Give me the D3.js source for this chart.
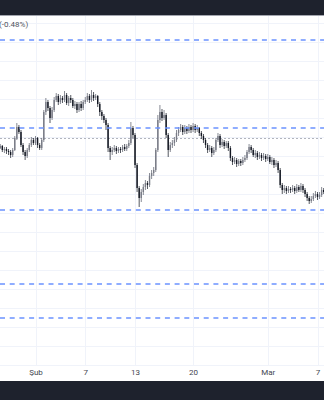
<!DOCTYPE html>
<html>
<head>
<meta charset="utf-8">
<script src="https://cdn.jsdelivr.net/npm/d3@7"></script>
<style>
  body { margin: 0; background: #ffffff; }
  svg { display: block; }
</style>
</head>
<body>
<div id="chart-area"></div>
<script>
// 6h candles, first one starts 27 Jan 12:00
let startTime = new Date(2026, 0, 27, 12);
let stepHours = 6;

let closes = [
  252, 254, 250, 251, 249, 248, 245, 250, 262, 273,
  268, 255, 248, 244, 250, 255, 260, 257, 262, 255,
  252, 260, 288, 298, 292, 282, 290, 300, 304, 298,
  302, 300, 305, 297, 302, 300, 294, 296, 290, 296,
  292, 298, 300, 304, 300, 305, 302, 304, 296, 288,
  284, 280, 275, 252, 248, 250, 252, 249, 251, 250,
  253, 251, 254, 257, 272, 265, 235, 212, 202, 208,
  213, 217, 215, 224, 227, 230, 250, 280, 288, 282,
  285, 265, 250, 255, 257, 260, 267, 270, 273, 268,
  272, 269, 273, 270, 274, 270, 272, 267, 264, 260,
  255, 250, 252, 247, 250, 260, 264, 255, 258, 254,
  257, 252, 242, 238, 240, 236, 239, 237, 240, 242,
  248, 253, 250, 245, 247, 243, 245, 242, 244, 241,
  243, 238, 240, 235, 237, 230, 215, 210, 212, 209,
  211, 210, 212, 209, 213, 210, 214, 210, 206, 202,
  199, 201, 204, 206, 203, 205, 210, 208
];

let highs = [
  254, 256, 255, 253, 253, 251, 250, 252, 264, 277,
  275, 270, 257, 250, 252, 257, 263, 262, 264, 263,
  257, 262, 290, 302, 300, 294, 293, 303, 307, 306,
  305, 304, 309, 307, 304, 305, 302, 299, 298, 298,
  299, 300, 303, 307, 306, 310, 308, 306, 305, 298,
  290, 286, 282, 277, 254, 253, 255, 254, 253, 253,
  255, 256, 256, 260, 278, 274, 267, 237, 214, 211,
  216, 220, 219, 227, 230, 233, 252, 285, 295, 291,
  290, 287, 267, 258, 260, 263, 270, 273, 276, 275,
  275, 274, 276, 275, 277, 276, 275, 273, 269, 266,
  262, 257, 255, 254, 253, 262, 267, 266, 261, 260,
  259, 259, 254, 244, 243, 242, 241, 241, 243, 245,
  250, 256, 255, 252, 250, 249, 248, 247, 247, 246,
  246, 245, 243, 242, 240, 239, 232, 217, 215, 214,
  214, 213, 215, 214, 216, 215, 217, 216, 212, 208,
  204, 204, 207, 209, 208, 208, 213, 212
];

let lows = [
  248, 251, 248, 247, 246, 245, 242, 243, 249, 260,
  266, 253, 245, 240, 242, 248, 253, 255, 255, 252,
  250, 250, 258, 285, 289, 277, 280, 288, 298, 295,
  296, 297, 298, 295, 294, 297, 292, 291, 287, 288,
  289, 290, 296, 298, 297, 298, 299, 300, 293, 284,
  280, 277, 270, 248, 240, 245, 248, 246, 247, 247,
  248, 249, 249, 252, 255, 262, 232, 208, 193, 198,
  205, 210, 211, 213, 221, 224, 228, 248, 277, 279,
  280, 262, 243, 248, 252, 254, 258, 264, 268, 265,
  266, 266, 267, 267, 268, 267, 268, 264, 261, 257,
  252, 247, 248, 243, 245, 248, 258, 252, 253, 251,
  252, 249, 239, 235, 236, 233, 234, 234, 235, 238,
  240, 246, 247, 243, 242, 240, 241, 239, 240, 238,
  239, 236, 235, 232, 233, 227, 212, 206, 207, 206,
  207, 207, 208, 206, 207, 208, 208, 207, 203, 199,
  196, 197, 199, 202, 200, 201, 203, 206
];

let firstOpen = 250;

let levels = [360, 272, 190, 116, 82];   // blue dashed lines
let prevClose = 262;                     // grey dotted line
let changeLabel = "(-0.48%)";

let tickDates = [new Date(2026, 1, 1), new Date(2026, 1, 7), new Date(2026, 1, 13),
                 new Date(2026, 1, 20), new Date(2026, 2, 1), new Date(2026, 2, 7)];
let tickLabels = ["Şub", "7", "13", "20", "Mar", "7"];
let gridPrices = [377, 358, 339, 320, 301, 282, 263, 244, 225, 206, 187, 168, 149, 130, 111, 92, 73, 54, 35];

let candles = closes.map(function(c, i) {
    return {
        t: new Date(startTime.getTime() + i * stepHours * 3600 * 1000),
        o: i == 0 ? firstOpen : closes[i - 1],
        h: highs[i],
        l: lows[i],
        c: c
    };
});

let width = 324, height = 400;
let plotTop = 16, plotBottom = 381;

let svg = d3.select("#chart-area").append("svg")
    .attr("width", width)
    .attr("height", height);

let x = d3.scaleTime()
    .domain([tickDates[0], tickDates[5]])
    .range([35.5, 317.5]);

let y = d3.scaleLinear()
    .domain([30, 384])
    .range([370, 16]);

// top bar
svg.append("rect").attr("x", 0).attr("y", 0).attr("width", width).attr("height", 15)
    .attr("fill", "#1e222d");
svg.append("rect").attr("x", 0).attr("y", 15).attr("width", width).attr("height", 1)
    .attr("fill", "#a3a6af");

// plot background
svg.append("rect").attr("x", 0).attr("y", plotTop).attr("width", width).attr("height", plotBottom - plotTop)
    .attr("fill", "#ffffff");

let plot = svg.append("g");

// grid
plot.selectAll(".hgrid").data(gridPrices).enter().append("line")
    .attr("class", "hgrid")
    .attr("x1", 0).attr("x2", width)
    .attr("y1", d => Math.round(y(d)) + 0.5).attr("y2", d => Math.round(y(d)) + 0.5)
    .attr("stroke", "#f0f3fa");

plot.selectAll(".vgrid").data(tickDates).enter().append("line")
    .attr("class", "vgrid")
    .attr("x1", d => Math.round(x(d)) + 0.5).attr("x2", d => Math.round(x(d)) + 0.5)
    .attr("y1", plotTop).attr("y2", 366)
    .attr("stroke", "#f0f3fa");

// prev close line
plot.append("line")
    .attr("x1", 0).attr("x2", width)
    .attr("y1", Math.round(y(prevClose)) + 0.5).attr("y2", Math.round(y(prevClose)) + 0.5)
    .attr("stroke", "#b2b5be")
    .attr("stroke-dasharray", "2,2");

// candles
let bw = 1.4;
let gCandle = plot.selectAll(".candle").data(candles).enter().append("g")
    .attr("class", "candle");

gCandle.append("line")
    .attr("x1", d => x(d.t)).attr("x2", d => x(d.t))
    .attr("y1", d => y(d.h)).attr("y2", d => y(d.l))
    .attr("stroke", d => d.c >= d.o ? "#6a6d78" : "#2a2e39")
    .attr("stroke-width", 0.8);

gCandle.append("rect")
    .attr("x", d => x(d.t) - bw / 2)
    .attr("y", d => y(Math.max(d.o, d.c)))
    .attr("width", bw)
    .attr("height", d => Math.max(1, Math.abs(y(d.o) - y(d.c))))
    .attr("fill", d => d.c >= d.o ? "#787b86" : "#131722");

// dashed levels
plot.selectAll(".level").data(levels).enter().append("line")
    .attr("class", "level")
    .attr("x1", 0).attr("x2", width)
    .attr("y1", d => y(d)).attr("y2", d => y(d))
    .attr("stroke", "#6b93ff")
    .attr("stroke-width", 1.5)
    .attr("stroke-dasharray", "5,4.7");

// change label
svg.append("text")
    .attr("x", -1).attr("y", 27)
    .attr("font-family", "Roboto, sans-serif")
    .attr("font-size", 8)
    .attr("fill", "#50535e")
    .text(changeLabel);

// x axis labels
let xAxis = d3.axisBottom(x)
    .tickValues(tickDates)
    .tickFormat((d, i) => tickLabels[i])
    .tickSize(0)
    .tickPadding(0);

let xAxisGroup = svg.append("g")
    .attr("class", "x-axis")
    .attr("transform", "translate(0,369)")
    .call(xAxis);
xAxisGroup.select(".domain").remove();
xAxisGroup.selectAll("text")
    .attr("font-family", "Roboto, sans-serif")
    .attr("font-size", 8)
    .attr("fill", "#434651");

// bottom bar
svg.append("rect").attr("x", 0).attr("y", plotBottom).attr("width", width).attr("height", height - plotBottom)
    .attr("fill", "#1e222d");
</script>
</body>
</html>
